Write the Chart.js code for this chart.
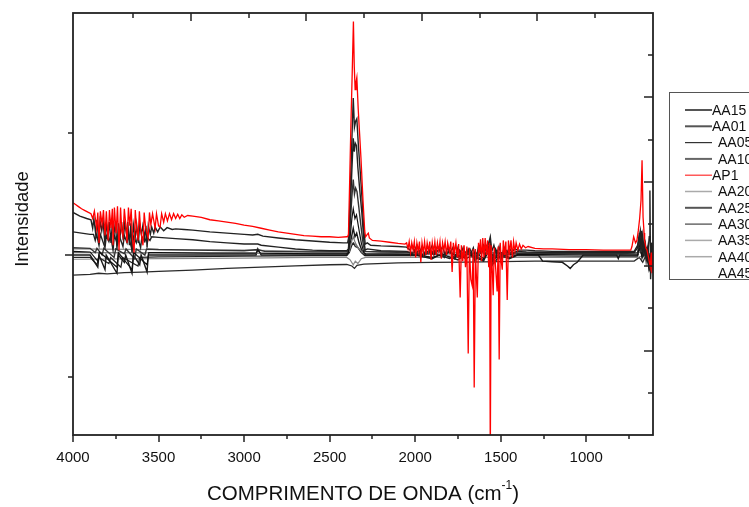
<!DOCTYPE html>
<html><head><meta charset="utf-8">
<script src="https://cdn.jsdelivr.net/npm/chart.js@4.4.1/dist/chart.umd.min.js"></script>
<style>html,body{margin:0;padding:0;background:#fff;}canvas{display:block;}</style>
</head><body>
<canvas id="c" width="749" height="507"></canvas>
<script>
// ---------- DATA (wavenumber cm-1, intensity a.u.) ----------
const seriesNames = ["AA15","AA01","AA05","AA10","AP1","AA20","AA25","AA30","AA35","AA40","AA45"];
const xTickLabels = [4000,3500,3000,2500,2000,1500,1000];
const xMinorTicks = [3750,3250,2750,2250,1750,1250,750];
const yTicks = [-1,0,1];

const AA15 = [[4000,0.35],[3960,0.32],[3920,0.30],[3895,0.29],[3885,0.22],[3878,0.30],[3868,0.18],[3860,0.29],[3850,0.12],[3842,0.28],[3832,0.20],[3824,0.28],[3813,0.08],[3806,0.27],[3796,0.16],[3788,0.27],[3778,0.10],[3770,0.26],[3760,0.18],[3752,0.27],[3743,0.05],[3735,0.26],[3725,0.15],[3716,0.27],[3706,0.12],[3698,0.26],[3688,0.18],[3680,0.27],[3670,0.08],[3662,0.26],[3655,0.02],[3647,0.25],[3636,0.15],[3628,0.25],[3618,0.10],[3610,0.25],[3600,0.17],[3592,0.24],[3582,0.14],[3574,0.24],[3567,0.06],[3560,0.24],[3548,0.17],[3540,0.23],[3528,0.18],[3520,0.23],[3505,0.19],[3490,0.23],[3470,0.20],[3450,0.225],[3420,0.21],[3400,0.215],[3350,0.21],[3300,0.205],[3200,0.19],[3100,0.18],[3000,0.17],[2950,0.165],[2920,0.17],[2890,0.155],[2800,0.14],[2700,0.125],[2600,0.115],[2500,0.105],[2420,0.10],[2395,0.10],[2388,0.15],[2380,0.5],[2370,0.95],[2362,1.29],[2355,1.05],[2348,1.1],[2341,1.12],[2332,0.9],[2322,0.7],[2310,0.45],[2300,0.2],[2292,0.09],[2280,0.1],[2260,0.08],[2200,0.075],[2100,0.07],[2050,0.065],[2030,0.04],[2020,0.08],[2005,0.03],[1990,0.08],[1975,0.02],[1960,0.07],[1945,0.0],[1930,0.07],[1915,0.03],[1900,0.08],[1885,0.02],[1870,0.07],[1855,0.03],[1840,0.07],[1825,0.0],[1810,0.06],[1795,0.02],[1780,0.06],[1765,-0.02],[1750,0.06],[1735,0.0],[1720,0.06],[1705,-0.03],[1690,0.05],[1675,0.01],[1660,0.06],[1645,-0.04],[1630,0.07],[1615,0.02],[1600,0.08],[1585,0.03],[1570,0.1],[1561,0.15],[1552,0.03],[1540,0.08],[1525,0.0],[1510,0.07],[1495,-0.02],[1480,0.06],[1465,0.01],[1450,0.06],[1435,0.02],[1420,0.05],[1400,0.04],[1350,0.04],[1300,0.035],[1200,0.03],[1000,0.03],[800,0.03],[720,0.03],[700,0.08],[690,0.15],[684,0.2],[678,0.1],[670,0.17],[664,0.05],[655,0.1],[646,-0.05],[638,0.05],[632,0.15],[628,0.53],[624,-0.2],[616,0.1],[610,-0.05]];

const AA01 = [[4000,0.19],[3950,0.18],[3900,0.17],[3880,0.17],[3870,0.12],[3862,0.17],[3848,0.08],[3840,0.17],[3813,0.06],[3805,0.16],[3790,0.11],[3780,0.16],[3766,0.04],[3758,0.16],[3740,0.09],[3730,0.16],[3708,0.07],[3700,0.16],[3684,0.10],[3676,0.16],[3655,0.04],[3646,0.15],[3630,0.10],[3622,0.15],[3605,0.06],[3597,0.15],[3580,0.11],[3570,0.15],[3550,0.12],[3540,0.15],[3500,0.145],[3400,0.135],[3300,0.125],[3200,0.11],[3100,0.10],[3000,0.09],[2920,0.09],[2900,0.08],[2800,0.065],[2700,0.05],[2600,0.04],[2500,0.035],[2400,0.035],[2390,0.05],[2380,0.35],[2370,0.7],[2362,0.96],[2356,0.85],[2350,0.92],[2343,0.9],[2335,0.72],[2325,0.55],[2312,0.35],[2300,0.12],[2292,0.04],[2280,0.05],[2200,0.035],[2050,0.03],[2000,0.0],[1980,0.04],[1950,-0.01],[1920,0.04],[1890,0.0],[1860,0.05],[1830,-0.02],[1800,0.04],[1770,-0.03],[1740,0.04],[1710,-0.02],[1680,0.05],[1650,-0.05],[1620,0.06],[1590,0.0],[1565,0.07],[1555,-0.06],[1530,0.05],[1500,-0.04],[1470,0.04],[1440,0.0],[1410,0.03],[1350,0.025],[1200,0.02],[1000,0.02],[800,0.02],[720,0.02],[700,0.06],[690,0.18],[683,0.05],[676,0.2],[668,0.02],[660,0.08],[650,-0.05],[640,0.06],[630,-0.1],[620,0.1],[610,-0.03]];

const AA05 = [[4000,0.03],[3900,0.025],[3855,-0.05],[3845,0.025],[3743,-0.1],[3735,0.02],[3655,-0.12],[3645,0.02],[3567,-0.08],[3557,0.02],[3500,0.02],[3200,0.015],[2930,0.015],[2920,0.04],[2905,0.015],[2600,0.01],[2400,0.01],[2390,0.02],[2380,0.15],[2370,0.3],[2362,0.38],[2352,0.3],[2343,0.33],[2330,0.22],[2315,0.1],[2300,0.02],[2290,0.01],[2000,0.005],[1900,-0.02],[1800,0.02],[1700,-0.03],[1650,0.02],[1600,-0.03],[1561,0.1],[1550,-0.05],[1500,0.02],[1450,-0.02],[1400,0.005],[1000,0.0],[800,0.0],[700,0.0],[685,0.1],[675,-0.02],[665,0.08],[650,-0.02],[640,0.05],[625,-0.12],[612,0.02]];

const AA10 = [[4000,0.06],[3900,0.055],[3870,0.02],[3860,0.055],[3830,0.0],[3820,0.055],[3760,-0.02],[3750,0.05],[3700,0.01],[3690,0.05],[3640,-0.03],[3630,0.05],[3580,0.0],[3570,0.05],[3500,0.045],[3300,0.04],[3000,0.035],[2920,0.045],[2880,0.03],[2600,0.025],[2400,0.025],[2390,0.04],[2380,0.25],[2370,0.48],[2362,0.62],[2355,0.5],[2348,0.55],[2340,0.52],[2330,0.4],[2318,0.25],[2305,0.1],[2295,0.03],[2200,0.025],[2000,0.02],[1950,0.0],[1900,0.03],[1850,-0.01],[1800,0.03],[1750,-0.02],[1700,0.03],[1650,-0.03],[1600,0.04],[1561,0.12],[1555,-0.1],[1520,0.03],[1480,-0.02],[1440,0.02],[1400,0.015],[1200,0.01],[1000,0.01],[800,0.01],[700,0.02],[688,0.15],[680,0.05],[672,0.12],[660,0.0],[645,0.05],[630,-0.08],[615,0.05]];

const AP1 = [[4000,0.43],[3985,0.415],[3970,0.40],[3950,0.38],[3930,0.365],[3910,0.35],[3895,0.34],[3885,0.30],[3875,0.36],[3862,0.22],[3855,0.35],[3848,0.10],[3840,0.36],[3830,0.25],[3822,0.37],[3813,0.16],[3805,0.36],[3795,0.12],[3787,0.37],[3778,0.22],[3770,0.38],[3766,0.08],[3758,0.39],[3748,0.18],[3740,0.40],[3731,0.04],[3722,0.39],[3715,0.20],[3708,0.15],[3700,0.38],[3692,0.26],[3684,0.10],[3676,0.39],[3668,0.24],[3660,0.38],[3652,0.12],[3643,0.02],[3636,0.37],[3628,0.22],[3620,0.12],[3612,0.36],[3604,0.20],[3591,0.08],[3584,0.35],[3575,0.22],[3561,0.14],[3553,0.35],[3545,0.25],[3535,0.34],[3520,0.22],[3512,0.34],[3500,0.24],[3491,0.23],[3482,0.34],[3470,0.27],[3460,0.34],[3448,0.28],[3436,0.34],[3424,0.29],[3412,0.34],[3400,0.30],[3388,0.335],[3376,0.30],[3364,0.33],[3350,0.31],[3330,0.325],[3300,0.32],[3250,0.31],[3200,0.29],[3150,0.28],[3100,0.27],[3050,0.26],[3000,0.245],[2950,0.235],[2900,0.22],[2850,0.205],[2800,0.19],[2750,0.18],[2700,0.17],[2650,0.16],[2600,0.155],[2550,0.15],[2500,0.15],[2450,0.145],[2400,0.15],[2395,0.15],[2390,0.17],[2383,0.6],[2376,1.05],[2368,1.5],[2361,1.92],[2356,1.55],[2351,1.36],[2346,1.42],[2341,1.46],[2333,1.2],[2325,1.0],[2317,0.8],[2305,0.45],[2295,0.2],[2290,0.15],[2280,0.17],[2274,0.18],[2268,0.14],[2250,0.12],[2200,0.115],[2150,0.105],[2100,0.095],[2060,0.09],[2050,0.1],[2042,0.05],[2035,0.11],[2027,0.02],[2020,0.1],[2012,0.04],[2005,0.11],[1997,-0.02],[1990,0.1],[1982,0.03],[1975,0.11],[1967,-0.06],[1960,0.1],[1952,0.02],[1945,0.11],[1937,0.0],[1930,0.1],[1922,0.03],[1915,0.11],[1907,-0.04],[1900,0.1],[1892,0.02],[1885,0.11],[1877,0.0],[1870,0.1],[1862,0.03],[1855,0.11],[1847,-0.03],[1840,0.1],[1832,0.04],[1825,0.11],[1817,0.0],[1810,0.1],[1800,0.03],[1792,0.11],[1784,-0.14],[1777,0.1],[1770,0.02],[1762,0.1],[1754,-0.02],[1746,0.09],[1737,-0.35],[1730,0.08],[1722,-0.05],[1714,0.08],[1706,-0.1],[1698,0.07],[1690,-0.81],[1683,0.06],[1675,-0.2],[1667,-0.25],[1661,0.05],[1655,-1.09],[1648,0.05],[1643,-0.15],[1637,-0.35],[1630,0.1],[1624,0.02],[1618,0.13],[1612,-0.05],[1605,0.14],[1598,-0.02],[1591,0.14],[1584,0.0],[1577,0.12],[1570,-0.1],[1565,0.1],[1561,-1.7],[1556,0.08],[1550,-0.1],[1544,-0.33],[1538,0.06],[1530,-0.1],[1521,-0.3],[1515,0.07],[1509,-0.86],[1503,0.1],[1497,-0.05],[1491,-0.12],[1485,0.12],[1478,0.0],[1470,0.11],[1462,-0.37],[1455,0.12],[1448,0.02],[1440,0.12],[1432,-0.02],[1425,0.11],[1417,0.03],[1410,0.1],[1400,0.04],[1390,0.09],[1380,0.05],[1370,0.08],[1355,0.06],[1340,0.07],[1300,0.055],[1250,0.05],[1200,0.05],[1100,0.045],[1000,0.045],[900,0.04],[800,0.04],[740,0.04],[733,0.07],[723,0.15],[712,0.1],[704,0.12],[696,0.2],[688,0.3],[680,0.45],[674,0.78],[668,0.31],[662,0.18],[659,0.12],[652,0.06],[645,0.04],[636,-0.02],[626,-0.1],[620,0.02],[616,-0.15],[610,-0.05]];

const AA20 = [[4000,0.02],[3500,0.018],[3000,0.015],[2600,0.012],[2400,0.012],[2385,0.03],[2370,0.12],[2362,0.15],[2350,0.1],[2330,0.05],[2300,0.015],[2000,0.01],[1800,0.0],[1600,0.02],[1400,0.01],[1000,0.01],[700,0.01],[680,0.04],[650,0.0],[610,0.02]];

const AA25 = [[4000,0.0],[3900,0.0],[3855,-0.1],[3848,0.0],[3813,-0.12],[3806,0.0],[3743,-0.15],[3735,0.0],[3700,-0.06],[3692,0.0],[3655,-0.15],[3647,0.0],[3610,-0.08],[3602,0.0],[3567,-0.14],[3560,0.0],[3500,0.0],[3000,0.0],[2930,0.0],[2920,0.05],[2900,0.0],[2700,0.0],[2400,0.0],[2385,0.05],[2372,0.15],[2362,0.22],[2352,0.15],[2342,0.18],[2328,0.1],[2310,0.03],[2290,0.0],[2000,0.0],[1900,-0.03],[1850,0.01],[1750,-0.04],[1700,0.01],[1600,-0.05],[1561,0.08],[1550,-0.08],[1500,0.0],[1450,-0.03],[1400,0.0],[1300,0.0],[1280,0.0],[1255,-0.05],[1200,-0.055],[1140,-0.06],[1110,-0.09],[1094,-0.11],[1075,-0.08],[1053,-0.06],[1018,0.0],[900,0.0],[822,0.0],[813,-0.03],[805,0.0],[700,0.0],[680,0.08],[665,0.0],[645,0.06],[635,-0.1],[620,0.05],[610,-0.04]];

const AA30 = [[4000,-0.02],[3900,-0.02],[3860,-0.08],[3850,-0.02],[3790,-0.07],[3780,-0.02],[3720,-0.1],[3710,-0.02],[3620,-0.09],[3610,-0.02],[3500,-0.015],[3000,-0.01],[2600,-0.005],[2400,-0.005],[2385,0.02],[2370,0.08],[2362,0.1],[2350,0.07],[2335,0.06],[2315,0.02],[2295,-0.005],[2000,-0.005],[1900,0.02],[1800,-0.03],[1700,0.02],[1600,-0.04],[1561,0.05],[1540,-0.03],[1450,0.01],[1400,-0.005],[1000,-0.01],[700,-0.01],[690,0.05],[670,-0.02],[650,0.05],[640,-0.05],[620,0.03],[610,-0.02]];

const AA35 = [[4000,-0.035],[3500,-0.03],[3000,-0.025],[2600,-0.02],[2400,-0.02],[2380,-0.04],[2362,-0.08],[2350,-0.05],[2335,-0.07],[2315,-0.03],[2290,-0.02],[2000,-0.02],[1600,-0.02],[1400,-0.02],[1000,-0.02],[700,-0.02],[660,0.0],[630,-0.05],[610,-0.02]];

const AA40 = [[4000,0.05],[3500,0.045],[3000,0.04],[2600,0.03],[2400,0.03],[2380,0.06],[2362,0.1],[2345,0.08],[2320,0.04],[2300,0.03],[2000,0.025],[1600,0.02],[1200,0.02],[700,0.015],[670,0.05],[640,0.0],[610,0.02]];

const AA45 = [[4000,-0.165],[3900,-0.16],[3850,-0.15],[3800,-0.155],[3700,-0.145],[3600,-0.14],[3500,-0.135],[3300,-0.125],[3100,-0.11],[2900,-0.1],[2700,-0.09],[2500,-0.08],[2400,-0.078],[2370,-0.09],[2355,-0.11],[2340,-0.085],[2300,-0.075],[2100,-0.065],[1900,-0.06],[1700,-0.058],[1500,-0.055],[1300,-0.05],[1000,-0.05],[800,-0.05],[720,-0.05],[690,-0.02],[670,-0.06],[650,0.0],[630,-0.12],[615,-0.03]];

const seriesData = [AA15,AA01,AA05,AA10,AP1,AA20,AA25,AA30,AA35,AA40,AA45];

// ---------- STYLES ----------
const lineColors   = ['#222','#222','#111','#333','#ff0000','#777','#1a1a1a','#222','#888','#888','#2a2a2a'];
const lineWidths   = [1.4,1.4,1.2,1.4,1.3,1.2,1.4,1.2,1.2,1.2,1.3];
const legendColors = ['#555','#555','#333','#666','#ff3030','#aaa','#555','#444','#aaa','#aaa','rgba(0,0,0,0)'];
const legendWidths = [2,2,1.2,2,1.2,1.5,2,1.2,1.5,1.5,0];
const legendIndent = [0,0,1,1,0,1,1,1,1,1,1];

const FONT = '"Liberation Sans", Arial, sans-serif';

const datasets = seriesNames.map((name, i) => ({
  label: name,
  data: seriesData[i].map(([x, y]) => ({x, y})),
  borderColor: lineColors[i],
  borderWidth: lineWidths[i],
  pointRadius: 0,
  tension: 0,
  fill: false,
  order: name === 'AP1' ? -1 : 0,
  xAxisID: 'x', yAxisID: 'y'
}));

const decor = {
  id: 'decor',
  afterDatasetsDraw(chart) {
    const {ctx, chartArea: a, scales} = chart;
    const x = scales.x, y = scales.y, x2 = scales.x2, y2 = scales.y2;
    ctx.save();
    ctx.strokeStyle = '#222';
    ctx.lineWidth = 1.8;
    ctx.strokeRect(a.left, a.top, a.right - a.left, a.bottom - a.top);
    ctx.lineWidth = 1.5;
    ctx.beginPath();
    xTickLabels.forEach(v => { const px = Math.round(x.getPixelForValue(v)); ctx.moveTo(px, a.bottom); ctx.lineTo(px, a.bottom + 7); });
    xMinorTicks.forEach(v => { const px = Math.round(x.getPixelForValue(v)); ctx.moveTo(px, a.bottom); ctx.lineTo(px, a.bottom + 4); });
    for (let k = 1; k <= 9; k++) { const px = Math.round(x2.getPixelForValue(k)); ctx.moveTo(px, a.top); ctx.lineTo(px, a.top + (k % 2 === 0 ? 8 : 5)); }
    yTicks.forEach(v => { const py = Math.round(y.getPixelForValue(v)); ctx.moveTo(a.left, py); ctx.lineTo(a.left - (v === 0 ? 8 : 5), py); });
    for (let k = 1; k <= 9; k++) { const py = Math.round(y2.getPixelForValue(k)); ctx.moveTo(a.right, py); ctx.lineTo(a.right - (k % 2 === 0 ? 9 : 5), py); }
    ctx.stroke();

    ctx.fillStyle = '#111';
    ctx.font = '15px ' + FONT;
    ctx.textAlign = 'center';
    ctx.textBaseline = 'middle';
    xTickLabels.forEach(v => ctx.fillText(String(v), x.getPixelForValue(v), a.bottom + 23));

    const cx = (a.left + a.right) / 2, ty = 494;
    const t1 = 'COMPRIMENTO DE ONDA (cm', sup = '-1', t2 = ')';
    ctx.font = '20.5px ' + FONT;
    const w1 = ctx.measureText(t1).width, w3 = ctx.measureText(t2).width;
    ctx.font = '12px ' + FONT;
    const w2 = ctx.measureText(sup).width;
    let sx = cx - (w1 + w2 + w3) / 2;
    ctx.textAlign = 'left';
    ctx.font = '20.5px ' + FONT;
    ctx.fillText(t1, sx, ty);
    ctx.font = '12px ' + FONT;
    ctx.fillText(sup, sx + w1, ty - 8);
    ctx.font = '20.5px ' + FONT;
    ctx.fillText(t2, sx + w1 + w2, ty);

    ctx.save();
    ctx.translate(23, 219);
    ctx.rotate(-Math.PI / 2);
    ctx.textAlign = 'center';
    ctx.font = '18.5px ' + FONT;
    ctx.fillText('Intensidade', 0, 0);
    ctx.restore();

    ctx.strokeStyle = '#555';
    ctx.lineWidth = 1;
    ctx.strokeRect(669.5, 92.5, 100, 187);
    ctx.font = '14px ' + FONT;
    ctx.textAlign = 'left';
    chart.data.datasets.forEach((ds, i) => {
      const ly = 110 + i * 16.3;
      if (legendWidths[i] > 0) {
        ctx.strokeStyle = legendColors[i];
        ctx.lineWidth = legendWidths[i];
        ctx.beginPath(); ctx.moveTo(685, ly); ctx.lineTo(712, ly); ctx.stroke();
      }
      ctx.fillStyle = '#111';
      ctx.fillText(ds.label, legendIndent[i] ? 718 : 712, ly + 1);
    });
    ctx.restore();
  }
};

new Chart(document.getElementById('c'), {
  type: 'line',
  data: { datasets },
  options: {
    responsive: false,
    animation: false,
    events: [],
    layout: { padding: { left: 73, right: 96, top: 13, bottom: 72 } },
    plugins: { legend: { display: false }, tooltip: { enabled: false } },
    scales: {
      x: { type: 'linear', reverse: true, min: 610, max: 4000, display: false },
      y: { type: 'linear', min: -1.48, max: 1.99, display: false },
      x2: { type: 'linear', min: -0.04, max: 10, display: false, position: 'top' },
      y2: { type: 'linear', min: 0, max: 10, display: false, position: 'right' }
    }
  },
  plugins: [decor]
});
</script>
</body></html>
